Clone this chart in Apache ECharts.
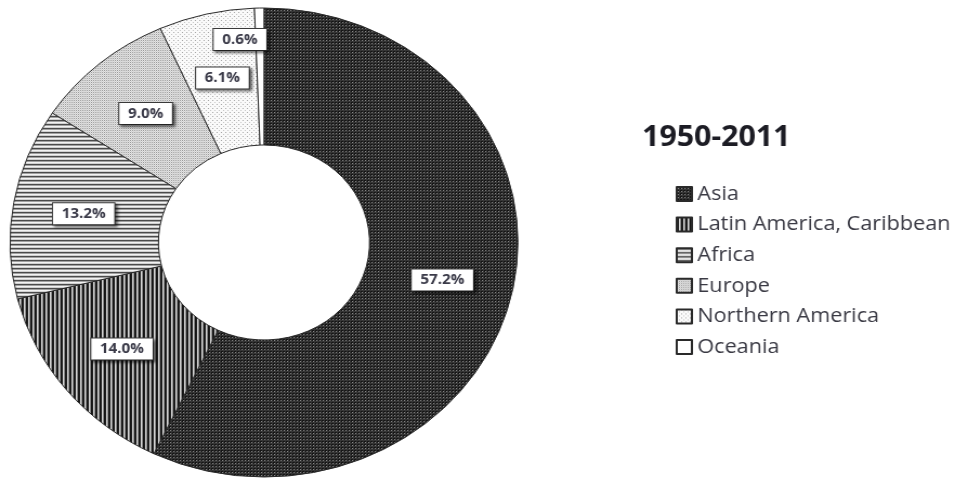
<!DOCTYPE html>
<html>
<head>
<meta charset="utf-8">
<script src="https://cdn.jsdelivr.net/npm/echarts@6/dist/echarts.min.js"></script>
<style>
  html, body { margin: 0; padding: 0; background: #fff; overflow: hidden; }
  #wrap { width: 955px; height: 479px; overflow: hidden; }
  #chart { width: 882px; height: 479px; transform: scaleX(1.0828); transform-origin: 0 0; }
</style>
</head>
<body>
<div id="wrap"><div id="chart"></div></div>
<script>
const titleText = '1950-2011';
const regions = ['Asia', 'Latin America, Caribbean', 'Africa', 'Europe', 'Northern America', 'Oceania'];
const shares = [57.2, 14.0, 13.2, 9.0, 6.1, 0.6];

function makeTile(w, h, draw) {
  const c = document.createElement('canvas');
  c.width = w; c.height = h;
  const g = c.getContext('2d');
  draw(g);
  return { image: c, repeat: 'repeat' };
}
function px(g, x, y, col) { g.fillStyle = col; g.fillRect(x, y, 1, 1); }

const patterns = {
  'Asia': makeTile(3, 3, g => {
    g.fillStyle = '#141414'; g.fillRect(0, 0, 3, 3);
    g.fillStyle = '#363636'; g.fillRect(0, 2, 3, 1); g.fillRect(2, 0, 1, 3);
    px(g, 1, 1, '#858585');
  }),
  'Latin America, Caribbean': makeTile(4, 1, g => {
    px(g, 0, 0, '#151515'); px(g, 1, 0, '#1e1e1e'); px(g, 2, 0, '#d8d8d8'); px(g, 3, 0, '#8c8c8c');
  }),
  'Africa': makeTile(1, 4, g => {
    px(g, 0, 0, '#4a4a4a'); px(g, 0, 1, '#a0a0a0'); px(g, 0, 2, '#f2f2f2'); px(g, 0, 3, '#d0d0d0');
  }),
  'Europe': makeTile(2, 2, g => {
    px(g, 0, 0, '#9a9a9a'); px(g, 1, 0, '#e6e6e6'); px(g, 0, 1, '#e6e6e6'); px(g, 1, 1, '#cfcfcf');
  }),
  'Northern America': makeTile(4, 4, g => {
    g.fillStyle = '#fafafa'; g.fillRect(0, 0, 4, 4);
    px(g, 0, 0, '#a8a8a8'); px(g, 2, 2, '#c4c4c4');
  }),
  'Oceania': '#ffffff'
};

const labelOffsets = { 'Oceania': [-19, -34] };

const data = regions.map((name, i) => {
  const item = { name: name, value: shares[i], itemStyle: { color: patterns[name] } };
  if (labelOffsets[name]) item.label = { offset: labelOffsets[name] };
  return item;
});

const chart = echarts.init(document.getElementById('chart'), null, { renderer: 'canvas' });
chart.setOption({
  backgroundColor: '#ffffff',
  animation: false,
  title: {
    text: titleText,
    left: 588,
    top: 119,
    textStyle: { fontFamily: 'Open Sans', fontSize: 28, fontWeight: 'bold', color: '#1c1c24' }
  },
  legend: {
    orient: 'vertical',
    left: 619,
    top: 179,
    itemWidth: 14,
    itemHeight: 14,
    itemGap: 10.6,
    icon: 'rect',
    selectedMode: false,
    data: regions,
    textStyle: { fontFamily: 'Open Sans', fontSize: 20, color: '#3a3a44' }
  },
  series: [{
    type: 'pie',
    center: [243.8, 242.5],
    radius: [97.5, 234.5],
    startAngle: 90,
    clockwise: true,
    avoidLabelOverlap: false,
    silent: true,
    itemStyle: { borderColor: '#2a2a2a', borderWidth: 1 },
    label: {
      show: true,
      position: 'inside',
      formatter: p => p.value.toFixed(1) + '%',
      fontFamily: 'Open Sans',
      fontSize: 14,
      fontWeight: 'bold',
      color: '#3a3a48',
      backgroundColor: '#ffffff',
      borderColor: '#3a3a3a',
      borderWidth: 1,
      padding: [4, 8, 3, 8],
      shadowColor: 'rgba(0,0,0,0.55)',
      shadowBlur: 3,
      shadowOffsetX: 2,
      shadowOffsetY: 2
    },
    labelLine: { show: false },
    data: data
  }]
});
</script>
</body>
</html>
